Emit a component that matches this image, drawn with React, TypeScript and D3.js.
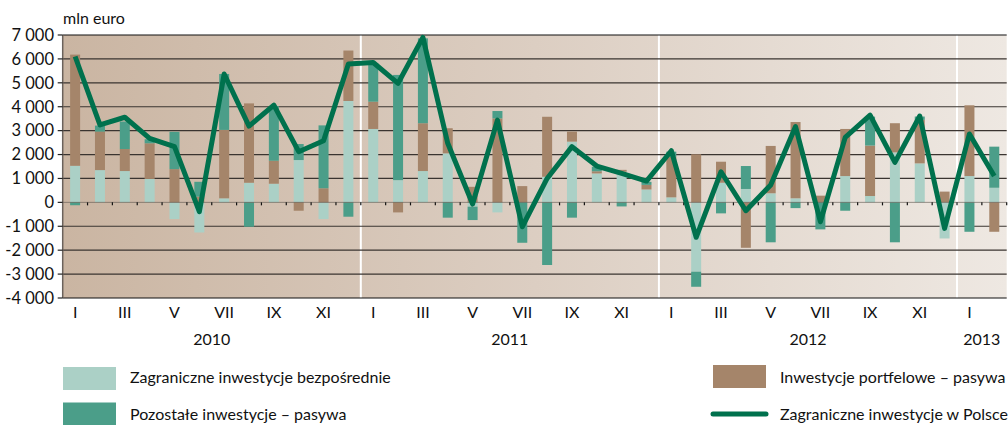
import React from "react";
import * as d3 from "d3";

const months: string[] = [
  "2010-01","2010-02","2010-03","2010-04","2010-05","2010-06","2010-07","2010-08","2010-09","2010-10","2010-11","2010-12",
  "2011-01","2011-02","2011-03","2011-04","2011-05","2011-06","2011-07","2011-08","2011-09","2011-10","2011-11","2011-12",
  "2012-01","2012-02","2012-03","2012-04","2012-05","2012-06","2012-07","2012-08","2012-09","2012-10","2012-11","2012-12",
  "2013-01","2013-02",
];
const romanLabels: string[] = ["I","II","III","IV","V","VI","VII","VIII","IX","X","XI","XII"];
const years: string[] = ["2010", "2011", "2012", "2013"];

// Zagraniczne inwestycje bezpośrednie
const fdi: number[] = [
  1530, 1350, 1310, 980, -700, -1260, 170, 820, 780, 1770, -700, 4240,
  3070, 930, 1310, 2050, -180, -420, 0, 1070, 2540, 1210, 1280, 540,
  210, -2900, 820, 560, 380, 170, 0, 1100, 265, 2090, 1630, -1510,
  1100, 610,
];
// Inwestycje portfelowe – pasywa
const portfolio: number[] = [
  4650, 1610, 920, 1490, 1390, 240, 2860, 3320, 960, -350, 590, 2110,
  1140, -420, 2000, 1050, 650, 3510, 680, 2510, 420, 90, 80, 190,
  1700, 2010, 880, -1900, 1980, 3190, 280, 1970, 2110, 1220, 1820, 450,
  2960, -1230,
];
// Pozostałe inwestycje – pasywa
const other: number[] = [
  -120, 250, 1150, 170, 1560, 620, 2340, -1020, 2290, 670, 2630, -600,
  1610, 4400, 3550, -640, -560, 310, -1690, -2620, -640, 190, -170, 130,
  210, -630, -460, 960, -1670, -240, -1130, -350, 1210, -1670, 140, 0,
  -1230, 1720,
];
// Zagraniczne inwestycje w Polsce
const total: number[] = [
  6100, 3240, 3560, 2680, 2330, -390, 5370, 3190, 4070, 2120, 2580, 5790,
  5850, 4980, 6900, 2470, -70, 3440, -1020, 1000, 2330, 1520, 1210, 890,
  2160, -1460, 1280, -350, 730, 3170, -810, 2720, 3650, 1670, 3610, -1090,
  2860, 1100,
];
const yTicks: number[] = [-4000, -3000, -2000, -1000, 0, 1000, 2000, 3000, 4000, 5000, 6000, 7000];

const seriesKeys = ["fdi", "portfolio", "other"] as const;
const seriesNames: Record<string, string> = {
  fdi: "Zagraniczne inwestycje bezpośrednie",
  portfolio: "Inwestycje portfelowe – pasywa",
  other: "Pozostałe inwestycje – pasywa",
};
const colors: Record<string, string> = {
  fdi: "#abd0c6",
  portfolio: "#a5856a",
  other: "#4b9e89",
};
const lineColor = "#00714d";

const W = 1008;
const H = 425;
const left = 62.7;
const right = 1006.7;
const top = 35;
const bottom = 298;
const font = "Lato, 'Open Sans', sans-serif";

const fmt = (v: number) => {
  const s = Math.abs(v).toString().replace(/\B(?=(\d{3})+(?!\d))/g, " ");
  return (v < 0 ? "-" : "") + s;
};

export default function App() {
  const table = months.map((m, i) => ({ m, fdi: fdi[i], portfolio: portfolio[i], other: other[i], total: total[i] }));
  const x = d3.scaleBand<string>().domain(months).range([left, right]).paddingInner(0).paddingOuter(0);
  const y = d3.scaleLinear().domain([-4000, 7000]).range([bottom, top]);
  const bw = x.bandwidth();
  const barW = 10;
  const stack = d3.stack<any>().keys(seriesKeys as any).offset(d3.stackOffsetDiverging);
  const layers = stack(table);
  const line = d3
    .line<any>()
    .x((d) => (x(d.m) as number) + bw / 2)
    .y((d) => y(d.total));

  const yearStarts = [0, 12, 24, 36];
  const yearEnds = [12, 24, 36, 38];

  return (
    <svg width={W} height={H} style={{ position: "absolute", left: 0, top: 0 }} fontFamily={font}>
      <defs>
        <linearGradient id="bg" x1="0" x2="1" y1="0" y2="0">
          <stop offset="0" stopColor="#cab5a2" />
          <stop offset="0.5" stopColor="#dccec2" />
          <stop offset="1" stopColor="#eee8e2" />
        </linearGradient>
      </defs>
      <rect x={0} y={0} width={W} height={H} fill="#ffffff" />
      <rect x={left} y={top} width={right - left} height={bottom - top} fill="url(#bg)" />
      {/* year separators */}
      {yearStarts.slice(1).map((s) => (
        <line key={s} x1={x(months[s]) as number} x2={x(months[s]) as number} y1={top} y2={bottom} stroke="#ffffff" strokeWidth={2} />
      ))}
      {/* gridlines */}
      {yTicks.filter((t) => t !== 0).map((t) => (
        <line key={t} x1={left} x2={right} y1={y(t)} y2={y(t)} stroke={t === 7000 || t === -4000 ? "#111" : "#3a3430"} strokeWidth={1.2} />
      ))}
      {/* bars */}
      {layers.map((layer) => (
        <g key={layer.key} fill={colors[layer.key]}>
          {layer.map((d: any, i: number) => {
            const y0 = y(d[0]);
            const y1 = y(d[1]);
            const h = Math.abs(y0 - y1);
            if (h < 0.01) return null;
            return (
              <rect key={i} x={(x(d.data.m) as number) + bw / 2 - barW / 2} y={Math.min(y0, y1)} width={barW} height={h} />
            );
          })}
        </g>
      ))}
      {/* zero line with ticks */}
      <line x1={left} x2={right} y1={y(0)} y2={y(0)} stroke="#5a524c" strokeWidth={0.6} />
      {months.map((m) => (
        <line key={m} x1={(x(m) as number) + bw} x2={(x(m) as number) + bw} y1={y(0)} y2={y(0) + 3} stroke="#111" strokeWidth={1.2} />
      ))}
      {/* total line */}
      <path d={line(table) || ""} fill="none" stroke={lineColor} strokeWidth={5} strokeLinejoin="round" />
      {/* y axis */}
      <line x1={left} x2={left} y1={top} y2={bottom} stroke="#6b625c" strokeWidth={1.5} />
      {yTicks.map((t) => (
        <g key={t}>
          <line x1={left - 5} x2={left} y1={y(t)} y2={y(t)} stroke="#222" strokeWidth={1.2} />
          <text x={54} y={y(t)} dy="0.35em" textAnchor="end" fontSize={16.5} fill="#111">
            {fmt(t)}
          </text>
        </g>
      ))}
      <text x={63} y={18} dy="0.35em" fontSize={16} fill="#111">mln euro</text>
      {/* month labels */}
      {months.map((m, i) => {
        const mi = i % 12;
        if (mi % 2 !== 0) return null;
        return (
          <text key={m} x={(x(m) as number) + bw / 2} y={312} dy="0.35em" textAnchor="middle" fontSize={16} fill="#111">
            {romanLabels[mi]}
          </text>
        );
      })}
      {years.map((yr, k) => {
        const a = x(months[yearStarts[k]]) as number;
        const b = (x(months[yearEnds[k] - 1]) as number) + bw;
        return (
          <text key={yr} x={(a + b) / 2} y={339} dy="0.35em" textAnchor="middle" fontSize={16} fill="#111">
            {yr}
          </text>
        );
      })}
      {/* legend */}
      <rect x={63} y={367} width={53} height={23} fill={colors.fdi} />
      <text x={130} y={383} fontSize={16} fill="#111">{seriesNames.fdi}</text>
      <rect x={63} y={402.5} width={53} height={23} fill={colors.other} />
      <text x={130} y={420} fontSize={16} fill="#111">{seriesNames.other}</text>
      <rect x={713} y={365} width={53} height={23} fill={colors.portfolio} />
      <text x={780} y={383} fontSize={16} fill="#111">{seriesNames.portfolio}</text>
      <line x1={713} x2={766} y1={414} y2={414} stroke={lineColor} strokeWidth={5} strokeLinecap="round" />
      <text x={780} y={420} fontSize={16} fill="#111">Zagraniczne inwestycje w Polsce</text>
    </svg>
  );
}
